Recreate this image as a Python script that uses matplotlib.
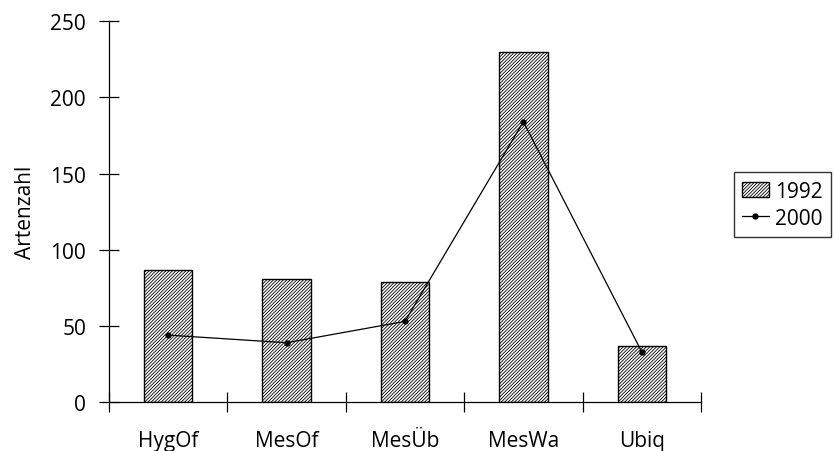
import matplotlib.pyplot as plt
import numpy as np

plt.rcParams['font.family'] = ['Open Sans', 'DejaVu Sans']
plt.rcParams['hatch.linewidth'] = 0.6

gruppen = ["HygOf", "MesOf", "MesÜb", "MesWa", "Ubiq"]
arten_1992 = [87, 81, 79, 230, 37]
arten_2000 = [44, 39, 53, 184, 33]

fig = plt.figure(figsize=(8.35, 4.52), dpi=100)
ax = fig.add_axes([0.1305, 0.108, 0.709, 0.843])

x = np.arange(len(gruppen))
bars = ax.bar(x, arten_1992, width=0.41, color="white", edgecolor="black",
              linewidth=1.0, hatch="//////////", label="1992")
line, = ax.plot(x, arten_2000, color="black", linewidth=0.9, marker="o",
                markersize=3.5, label="2000")

ax.set_xlim(-0.5, len(gruppen) - 0.5)
ax.set_ylim(0, 250)
ax.set_yticks([0, 50, 100, 150, 200, 250])
ax.set_xticks(x)
ax.set_xticklabels(gruppen)
# category boundary ticks instead of centre ticks
ax.set_xticks(np.arange(-0.5, len(gruppen)), minor=True)
ax.tick_params(axis="x", which="major", length=0, pad=20, labelsize=15)
ax.tick_params(axis="x", which="minor", direction="inout", length=14, width=0.9)
ax.tick_params(axis="y", direction="inout", length=15, width=0.9, labelsize=15, pad=9)

for s in ["top", "right"]:
    ax.spines[s].set_visible(False)
for s in ["left", "bottom"]:
    ax.spines[s].set_linewidth(0.9)

ax.set_ylabel("Artenzahl", fontsize=15, labelpad=10)

leg = fig.legend(handles=[bars, line], loc="center", bbox_to_anchor=(0.937, 0.545),
                 fontsize=15, frameon=True, fancybox=False, edgecolor="black",
                 handlelength=1.3, handletextpad=0.3, borderpad=0.4,
                 labelspacing=0.3, borderaxespad=0)
leg.get_frame().set_linewidth(1.0)

plt.savefig("out.png", dpi=100)
